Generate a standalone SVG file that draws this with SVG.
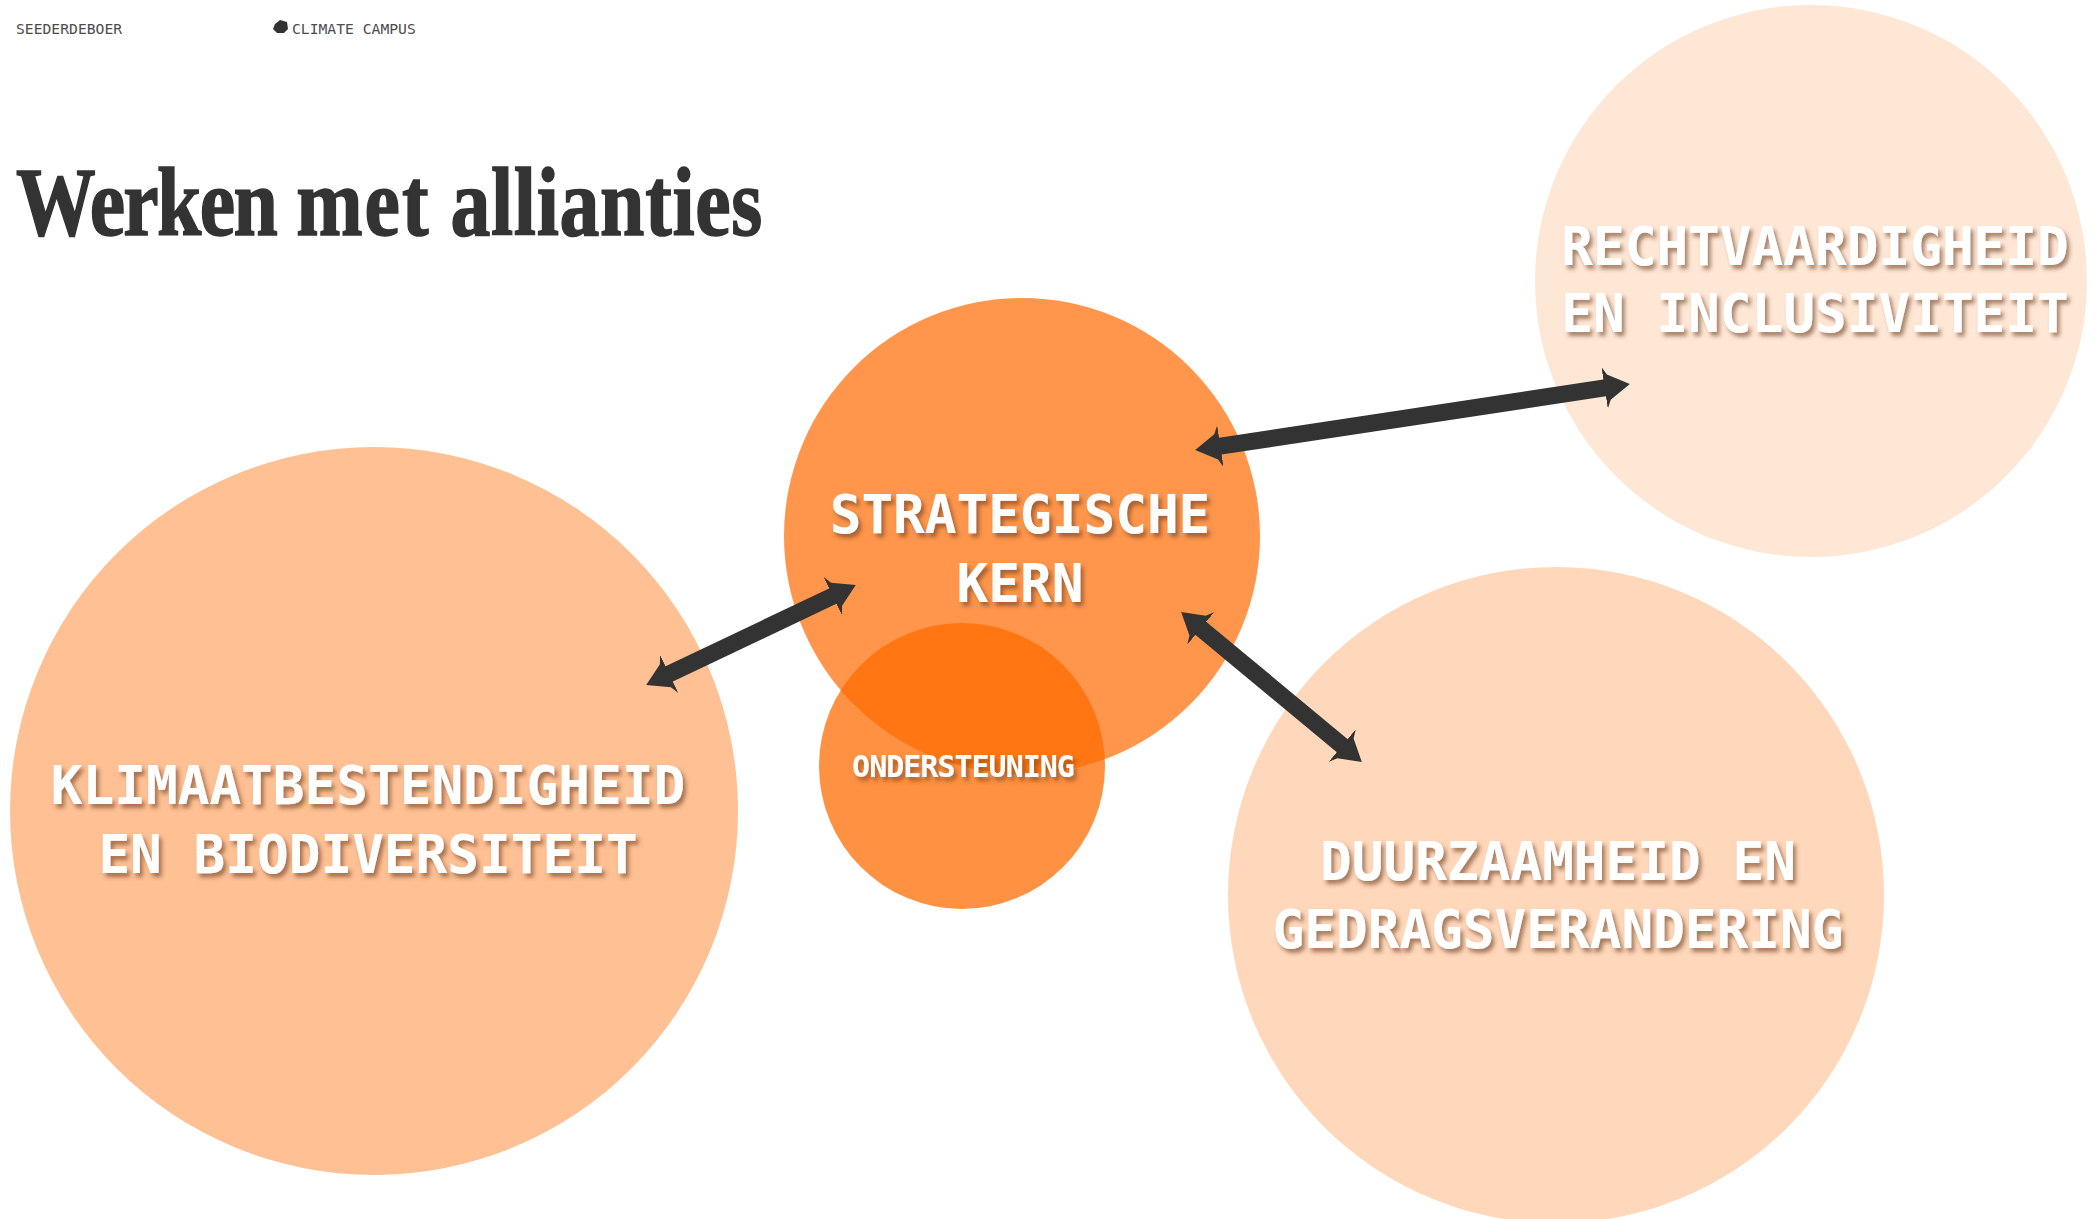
<svg xmlns="http://www.w3.org/2000/svg" width="2100" height="1219" viewBox="0 0 2100 1219">
<style>
.lab{font-family:"DejaVu Sans Mono",monospace;font-weight:700;font-size:52.7px;fill:#fff;text-anchor:middle;filter:url(#sh)}
.c{fill:#FF6A00}
.small{font-family:"DejaVu Sans Mono",monospace;font-size:14.7px;fill:#4d4d4d}
.con{stroke:#333;stroke-width:17;fill:none;marker-start:url(#ah);marker-end:url(#ah)}
</style>
<defs>
<filter id="sh" x="-10%" y="-30%" width="120%" height="170%"><feDropShadow dx="3" dy="4" stdDeviation="2" flood-color="#6b3a1a" flood-opacity="0.6"/></filter>
<marker id="ah" markerUnits="strokeWidth" markerWidth="1.6" markerHeight="2.5" refX="0.1" refY="1.25" orient="auto-start-reverse" viewBox="0 0 1.6 2.5"><path d="M0,0L0.25,0.5L1.5,1.25L0.25,2L0,2.5Z" fill="#333"/></marker>
</defs>
<rect width="2100" height="1219" fill="#fff"/>
<g id="header">
<text class="small" x="16" y="34">SEEDERDEBOER</text>
<path d="M275,24L280,20L287,22L288,29L284,33L277,33L273,29Z" fill="#333"/>
<text class="small" x="292" y="34">CLIMATE CAMPUS</text>
</g>
<text id="title" transform="translate(16,235) scale(0.813,1)" font-family="'Liberation Serif',serif" font-weight="700" font-size="98" fill="#333" stroke="#333" stroke-width="1.6"><tspan letter-spacing="-2">Werken</tspan> <tspan letter-spacing="2.5">met</tspan> <tspan letter-spacing="0.9">allianties</tspan></text>
<g id="node-klimaat"><circle class="c" cx="374" cy="811" r="364" opacity="0.42"/><text class="lab" x="368" y="804">KLIMAATBESTENDIGHEID</text><text class="lab" x="368" y="873">EN BIODIVERSITEIT</text></g>
<g id="node-recht"><circle class="c" cx="1811" cy="281" r="276" opacity="0.16"/><text class="lab" x="1815" y="265">RECHTVAARDIGHEID</text><text class="lab" x="1815" y="332">EN INCLUSIVITEIT</text></g>
<g id="node-duurzaam"><circle class="c" cx="1556" cy="895" r="328" opacity="0.27"/><text class="lab" x="1558" y="880">DUURZAAMHEID EN</text><text class="lab" x="1558" y="948">GEDRAGSVERANDERING</text></g>
<g id="node-kern"><circle class="c" cx="1022" cy="536" r="238" opacity="0.7"/><text class="lab" x="1020" y="533">STRATEGISCHE</text><text class="lab" x="1020" y="602">KERN</text></g>
<g id="node-ondersteuning"><circle class="c" cx="962" cy="766" r="143" opacity="0.74"/><text class="lab" x="963" y="777" style="font-size:30px;letter-spacing:-1px">ONDERSTEUNING</text></g>
<g id="connectors">
<line class="con" x1="667.7" y1="674.7" x2="834.3" y2="595.3"/>
<line class="con" x1="1218.7" y1="446.4" x2="1606.3" y2="387.6"/>
<line class="con" x1="1199.5" y1="627.3" x2="1343.5" y2="746.7"/>
</g>
</svg>
